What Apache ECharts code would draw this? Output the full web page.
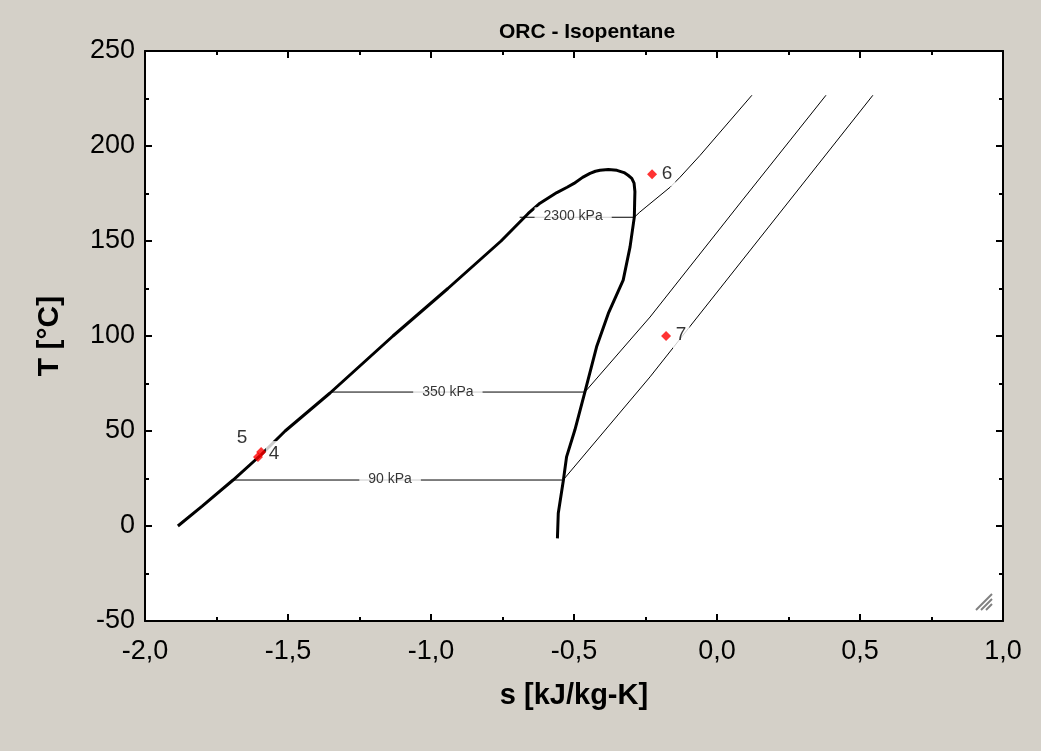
<!DOCTYPE html>
<html>
<head>
<meta charset="utf-8">
<script src="https://cdn.jsdelivr.net/npm/echarts@6/dist/echarts.min.js"></script>
<style>
html,body{margin:0;padding:0;background:#d4d0c8;}
#c{width:1041px;height:751px;}
</style>
</head>
<body>
<div id="c"></div>
<script>
// ---- data (s in kJ/kg-K, T in °C) ----
var domeS = [-1.885, -1.80, -1.692, -1.594, -1.510, -1.353, -1.133, -0.941, -0.755, -0.660, -0.619, -0.560, -0.524, -0.50, -0.47, -0.444, -0.425, -0.409, -0.38, -0.35, -0.325, -0.311, -0.298, -0.290, -0.287, -0.288, -0.289, -0.304, -0.328, -0.380, -0.421, -0.462, -0.497, -0.526, -0.537, -0.555, -0.558];
var domeT = [0, 10.5, 24.2, 37.5, 50, 70, 100, 125, 150, 164.5, 169.9, 175.5, 178.3, 180.3, 183.5, 185.6, 186.7, 187.2, 187.6, 187.2, 186, 184.6, 183, 180.5, 176, 170, 162.7, 146.9, 129.4, 111.9, 94.3, 70.5, 50.5, 36.4, 24.2, 6.7, -6.5];

var p2300S = [-0.690, -0.289, -0.270, -0.245, -0.164, -0.129, -0.059, 0.122];
var p2300T = [162.5, 162.5, 165.2, 168.3, 178.3, 183.6, 195.1, 226.7];
var p350S = [-1.353, -0.462, -0.234, 0.089, 0.381];
var p350T = [70.5, 70.5, 110, 171.5, 226.7];
var p90S = [-1.692, -0.538, -0.234, 0.545];
var p90T = [24.2, 24.2, 78.5, 226.7];

var isobarNames = ['2300 kPa', '350 kPa', '90 kPa'];
var isobarLabelS = [-0.503, -0.941, -1.143];
var isobarLabelT = [163, 70.5, 24.5];

var stateNames = ['5', '4', '6', '7'];
var stateS = [-1.605, -1.594, -0.227, -0.178];
var stateT = [36.3, 38.9, 185.1, 100.0];

var xTicks = {min: -2.0, max: 1.0, interval: 0.5};
var yTicks = {min: -50, max: 250, interval: 50};

function pairs(a, b) { return a.map(function (v, i) { return [v, b[i]]; }); }

var labelOffsets = {'5': [-16, -19], '4': [13, 2], '6': [15, -1], '7': [15, -1]};

var axisCommon = {
  axisLine: {show: true, onZero: false, lineStyle: {color: '#000', width: 2}},
  axisTick: {show: true, inside: true, length: 7, lineStyle: {color: '#000', width: 2}},
  minorTick: {show: true, splitNumber: 2, length: 4, lineStyle: {color: '#000', width: 2}},
  splitLine: {show: false}
};

function mk(base, extra) { return Object.assign({}, JSON.parse(JSON.stringify(base)), extra); }

var chart = echarts.init(document.getElementById('c'), null, {renderer: 'canvas'});
var option = {
  backgroundColor: '#d4d0c8',
  animation: false,
  title: {
    text: 'ORC - Isopentane', left: 582, top: 17, textAlign: 'center',
    textStyle: {fontFamily: 'Liberation Sans', fontWeight: 'bold', fontSize: 21, color: '#000'}
  },
  grid: {left: 145, right: 38, top: 51, bottom: 130, show: true, backgroundColor: '#fff', borderWidth: 0},
  xAxis: [
    mk(axisCommon, {
      type: 'value', position: 'bottom', min: xTicks.min, max: xTicks.max, interval: xTicks.interval,
      name: 's [kJ/kg-K]', nameLocation: 'middle', nameGap: 60,
      nameTextStyle: {fontFamily: 'Liberation Sans', fontWeight: 'bold', fontSize: 29, color: '#000'},
      axisLabel: {margin: 17, fontFamily: 'Liberation Sans', fontSize: 27, color: '#000',
        formatter: function (v) { return v.toFixed(1).replace('.', ','); }}
    }),
    mk(axisCommon, {
      type: 'value', position: 'top', min: xTicks.min, max: xTicks.max, interval: xTicks.interval,
      axisLabel: {show: false}
    })
  ],
  yAxis: [
    mk(axisCommon, {
      type: 'value', position: 'left', min: yTicks.min, max: yTicks.max, interval: yTicks.interval,
      name: 'T [°C]', nameLocation: 'middle', nameGap: 80, nameRotate: 90,
      nameTextStyle: {fontFamily: 'Liberation Sans', fontWeight: 'bold', fontSize: 30, color: '#000'},
      axisLabel: {margin: 10, fontFamily: 'Liberation Sans', fontSize: 27, color: '#000'}
    }),
    mk(axisCommon, {
      type: 'value', position: 'right', min: yTicks.min, max: yTicks.max, interval: yTicks.interval,
      axisLabel: {show: false}
    })
  ],
  series: [
    {type: 'line', data: pairs(domeS, domeT), showSymbol: false, symbol: 'none', z: 3,
      lineStyle: {color: '#000', width: 3}},
    {type: 'line', data: pairs(p2300S, p2300T), showSymbol: false, symbol: 'none', z: 2,
      lineStyle: {color: '#000', width: 1}},
    {type: 'line', data: pairs(p350S, p350T), showSymbol: false, symbol: 'none', z: 2,
      lineStyle: {color: '#000', width: 1}},
    {type: 'line', data: pairs(p90S, p90T), showSymbol: false, symbol: 'none', z: 2,
      lineStyle: {color: '#000', width: 1}},
    {type: 'scatter', z: 8, symbolSize: 0,
      data: isobarNames.map(function (n, i) { return {name: n, value: [isobarLabelS[i], isobarLabelT[i]]}; }),
      label: {show: true, position: 'inside', formatter: '{b}', fontFamily: 'Liberation Sans', fontSize: 14,
        color: '#000', backgroundColor: '#fff', padding: [2, 9]}},
    {type: 'scatter', z: 10, symbol: 'diamond', symbolSize: 10, itemStyle: {color: '#ff0000'},
      data: stateNames.map(function (n, i) {
        return {name: n, value: [stateS[i], stateT[i]],
          label: {show: true, position: 'inside', offset: labelOffsets[n], formatter: '{b}',
            fontFamily: 'Liberation Sans', fontSize: 19, color: '#000', backgroundColor: '#fff', padding: [1, 3, 6, 3]}};
      })}
  ],
  graphic: [
    {type: 'line', shape: {x1: 976, y1: 610, x2: 992, y2: 594}, style: {stroke: '#808080', lineWidth: 2}},
    {type: 'line', shape: {x1: 981, y1: 610, x2: 992, y2: 599}, style: {stroke: '#808080', lineWidth: 2}},
    {type: 'line', shape: {x1: 986, y1: 610, x2: 992, y2: 604}, style: {stroke: '#808080', lineWidth: 2}}
  ]
};
chart.setOption(option);
</script>
</body>
</html>
